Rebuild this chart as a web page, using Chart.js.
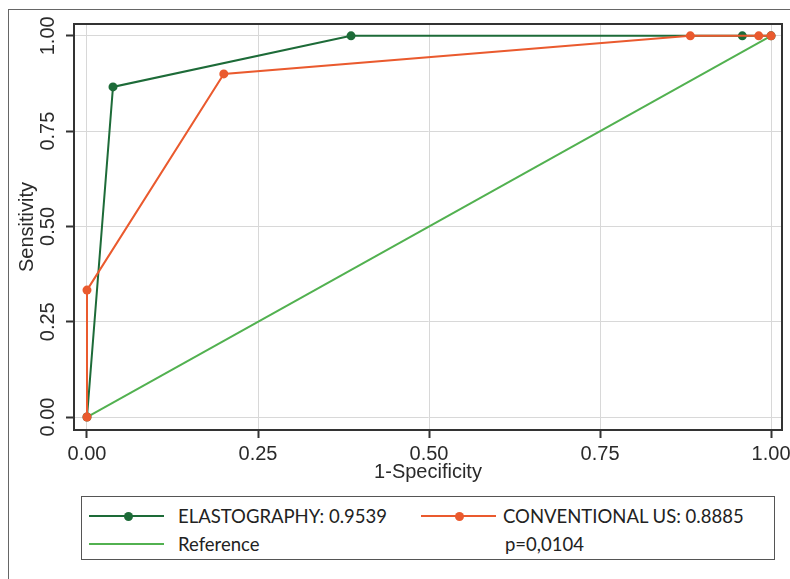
<!DOCTYPE html>
<html>
<head>
<meta charset="utf-8">
<script src="https://cdn.jsdelivr.net/npm/chart.js@4"></script>
<style>
  html, body { margin: 0; padding: 0; background: #fff; }
  #wrap { position: relative; width: 790px; height: 579px; overflow: hidden; }
  #c { position: absolute; left: 0; top: 0; }
  #frame { position: absolute; left: 8px; top: 9px; width: 800px; height: 600px;
           border-left: 1.5px solid #666; border-top: 1.5px solid #666; }
  #legend { position: absolute; left: 81px; top: 496px; width: 694px; height: 64px;
            border: 1.5px solid #555; box-sizing: border-box; background: #fff;
            font-family: Lato, "Open Sans", sans-serif; font-size: 18.5px; color: #222; }
  .sym { position: absolute; height: 2px; }
  .dot { position: absolute; width: 9px; height: 9px; border-radius: 50%; }
  .txt { position: absolute; white-space: nowrap; line-height: 24px; }
</style>
</head>
<body>
<div id="wrap">
  <div id="frame"></div>
  <canvas id="c" width="790" height="579"></canvas>
  <div id="legend"></div>
</div>
<script>
// ---- data ----
const xTickValues = [0, 0.25, 0.5, 0.75, 1];
const yTickValues = [0, 0.25, 0.5, 0.75, 1];
const tickLabels = ["0.00", "0.25", "0.50", "0.75", "1.00"];

const elastoX = [0, 0.038, 0.386, 0.958, 1];
const elastoY = [0, 0.866, 1, 1, 1];
const convX = [0, 0, 0.2, 0.882, 0.982, 1];
const convY = [0, 0.333, 0.9, 1, 1, 1];
const refX = [0, 1];
const refY = [0, 1];

const elastoLabel = "ELASTOGRAPHY: 0.9539";
const convLabel = "CONVENTIONAL US: 0.8885";
const refLabel = "Reference";
const pLabel = "p=0,0104";

const GREEN = "#1d6b38";
const ORANGE = "#ea5a2e";
const LIGHTGREEN = "#52b150";

const toPts = (xs, ys) => xs.map((x, i) => ({ x: x, y: ys[i] }));

// ---- legend (HTML text) ----
(function buildLegend() {
  const lg = document.getElementById('legend');
  const L = 81, T = 496;
  function line(x1, x2, y, color, dot) {
    const s = document.createElement('div');
    s.className = 'sym';
    s.style.left = (x1 - L) + 'px'; s.style.width = (x2 - x1) + 'px';
    s.style.top = (y - T - 1) + 'px'; s.style.background = color;
    lg.appendChild(s);
    if (dot) {
      const d = document.createElement('div');
      d.className = 'dot';
      d.style.left = (dot - L - 4.5) + 'px'; d.style.top = (y - T - 4.5) + 'px';
      d.style.background = color;
      lg.appendChild(d);
    }
  }
  function text(x, y, t) {
    const s = document.createElement('div');
    s.className = 'txt';
    s.style.left = (x - L) + 'px'; s.style.top = (y - T - 12) + 'px';
    s.textContent = t;
    lg.appendChild(s);
  }
  line(88, 163, 515, GREEN, 127);
  text(177, 515, elastoLabel);
  line(88, 163, 543, LIGHTGREEN, null);
  text(177, 543, refLabel);
  line(420, 495, 515, ORANGE, 458);
  text(502, 515, convLabel);
  text(504, 543, pLabel);
})();

// ---- plugins ----
const framePlugin = {
  id: 'frame',
  beforeDatasetsDraw(chart) {
    const { ctx, chartArea: a } = chart;
    ctx.save();
    ctx.strokeStyle = '#333';
    ctx.lineWidth = 2;
    ctx.beginPath();
    ctx.moveTo(a.left, a.top); ctx.lineTo(a.right, a.top); ctx.lineTo(a.right, a.bottom);
    ctx.stroke();
    ctx.restore();
  },
  afterDraw(chart) {
    const { ctx } = chart;
    const ys = chart.scales.y;
    ctx.save();
    ctx.fillStyle = '#2a2a2a';
    ctx.font = '20px "Liberation Sans", Arial, sans-serif';
    ctx.textAlign = 'center';
    ctx.textBaseline = 'middle';
    yTickValues.forEach((v, i) => {
      const py = ys.getPixelForValue(v);
      ctx.save();
      ctx.translate(48, py);
      ctx.rotate(-Math.PI / 2);
      ctx.fillText(tickLabels[i], 0, 0);
      ctx.restore();
    });
    ctx.restore();
  }
};

const axisFont = { family: '"Liberation Sans", Arial, sans-serif', size: 20, lineHeight: 1.2 };

new Chart(document.getElementById('c'), {
  type: 'scatter',
  data: {
    datasets: [
      {
        label: convLabel, data: toPts(convX, convY), showLine: true,
        borderColor: ORANGE, backgroundColor: ORANGE, borderWidth: 2,
        pointRadius: 4.5, pointHoverRadius: 4.5, pointBorderWidth: 0, order: 1
      },
      {
        label: elastoLabel, data: toPts(elastoX, elastoY), showLine: true,
        borderColor: GREEN, backgroundColor: GREEN, borderWidth: 2,
        pointRadius: 4.5, pointHoverRadius: 4.5, pointBorderWidth: 0, order: 2
      },
      {
        label: refLabel, data: toPts(refX, refY), showLine: true,
        borderColor: LIGHTGREEN, backgroundColor: LIGHTGREEN, borderWidth: 2,
        pointRadius: 0, order: 3
      }
    ]
  },
  options: {
    responsive: false,
    animation: false,
    events: [],
    layout: { padding: { left: 0, top: 24, right: 8, bottom: 93 } },
    plugins: { legend: { display: false }, tooltip: { enabled: false } },
    scales: {
      x: {
        type: 'linear', min: -0.019, max: 1.016,
        afterBuildTicks: s => { s.ticks = xTickValues.map(v => ({ value: v })); },
        afterFit: s => { s.height = 56; s.paddingLeft = 0; s.paddingRight = 0; },
        ticks: {
          callback: (v) => tickLabels[xTickValues.indexOf(v)],
          font: axisFont, color: '#2a2a2a', padding: 4, maxRotation: 0, autoSkip: false
        },
        grid: { color: '#d8d8d8', lineWidth: 1, tickColor: '#333', tickLength: 8, tickWidth: 2 },
        border: { display: true, color: '#333', width: 2 },
        title: { display: true, text: '1-Specificity', font: axisFont, color: '#2a2a2a',
                 padding: { top: 0, bottom: 2 } }
      },
      y: {
        type: 'linear', min: -0.034, max: 1.031,
        afterBuildTicks: s => { s.ticks = yTickValues.map(v => ({ value: v })); },
        afterFit: s => { s.width = 74; s.paddingTop = 0; s.paddingBottom = 0; },
        ticks: { display: false },
        grid: { color: '#d8d8d8', lineWidth: 1, tickColor: '#333', tickLength: 8, tickWidth: 2 },
        border: { display: true, color: '#333', width: 2 },
        title: { display: true, text: 'Sensitivity', font: axisFont, color: '#2a2a2a',
                 padding: { top: 15, bottom: 0 } }
      }
    }
  },
  plugins: [framePlugin]
});
</script>
</body>
</html>
